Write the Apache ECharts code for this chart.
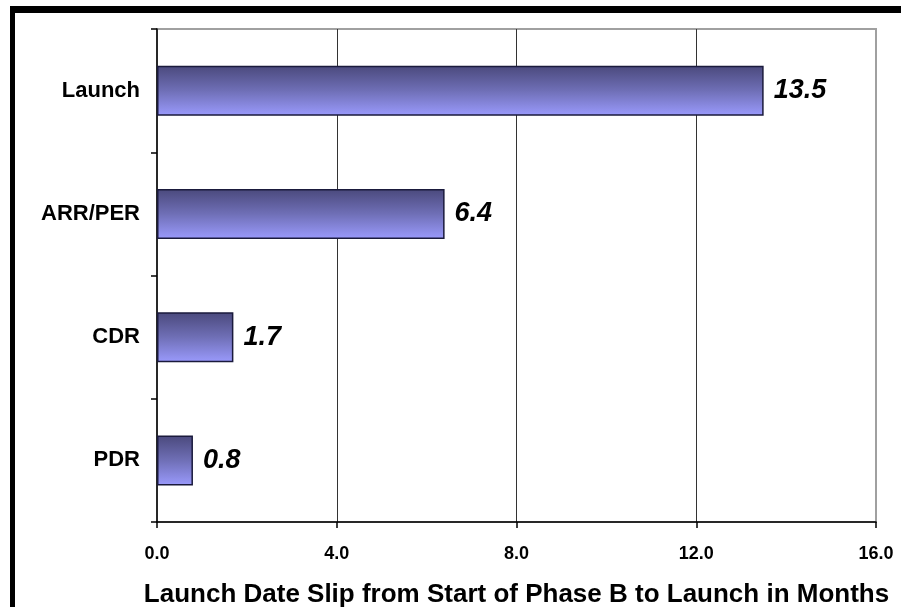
<!DOCTYPE html>
<html>
<head>
<meta charset="utf-8">
<script src="https://cdn.jsdelivr.net/npm/echarts@6/dist/echarts.min.js"></script>
<style>
  html, body { margin: 0; padding: 0; background: #fff; }
  #chart { width: 901px; height: 607px; }
</style>
</head>
<body>
<div id="chart"></div>
<script>
// Milestones, listed bottom to top
const milestones = ['PDR', 'CDR', 'ARR/PER', 'Launch'];
// Launch date slip (months) reached by each milestone
const slipMonths = [0.8, 1.7, 6.4, 13.5];
const axisTitle = 'Launch Date Slip from Start of Phase B to Launch in Months';

const FONT = '"Liberation Sans", Arial, Helvetica, sans-serif';

const chart = echarts.init(document.getElementById('chart'), null, { renderer: 'canvas' });

chart.setOption({
  backgroundColor: '#ffffff',
  animation: false,
  graphic: [
    // heavy frame along top and left edges
    { type: 'line', shape: { x1: 10, y1: 9.5, x2: 901, y2: 9.5 }, style: { stroke: '#000', lineWidth: 7 } },
    { type: 'line', shape: { x1: 12.5, y1: 6, x2: 12.5, y2: 607 }, style: { stroke: '#000', lineWidth: 5 } }
  ],
  grid: {
    left: 157, right: 25, top: 29, bottom: 85,
    containLabel: false,
    outerBoundsMode: 'none',
    show: true, borderColor: '#a0a0a0', borderWidth: 2, backgroundColor: 'transparent'
  },
  xAxis: {
    type: 'value',
    min: 0, max: 16, interval: 4,
    name: axisTitle,
    nameLocation: 'middle',
    nameGap: 60,
    nameTextStyle: { fontFamily: FONT, fontWeight: 'bold', fontSize: 26, color: '#000' },
    axisLine: { show: true, lineStyle: { color: '#000', width: 1.5 } },
    axisTick: { show: true, inside: false, length: 6, lineStyle: { color: '#000', width: 1.5 } },
    axisLabel: {
      margin: 23,
      fontFamily: FONT, fontWeight: 'bold', fontSize: 18, color: '#000',
      formatter: v => v.toFixed(1)
    },
    splitLine: { show: true, showMinLine: false, showMaxLine: false, lineStyle: { color: '#333', width: 1 } }
  },
  yAxis: {
    type: 'category',
    data: milestones,
    axisLine: { show: true, lineStyle: { color: '#000', width: 1.5 } },
    axisTick: { show: true, inside: false, length: 6, lineStyle: { color: '#000', width: 1.5 } },
    axisLabel: { margin: 17, fontFamily: FONT, fontWeight: 'bold', fontSize: 22, color: '#000' },
    splitLine: { show: false }
  },
  series: [{
    type: 'bar',
    data: slipMonths,
    barWidth: 50,
    itemStyle: {
      borderColor: '#1a1a3c',
      borderWidth: 1.5,
      color: new echarts.graphic.LinearGradient(0, 0, 0, 1, [
        { offset: 0, color: '#4a497c' },
        { offset: 0.5, color: '#6f6fb6' },
        { offset: 1, color: '#9a9afc' }
      ])
    },
    label: {
      show: true,
      position: 'right',
      distance: 10,
      fontFamily: FONT,
      fontWeight: 'bold',
      fontStyle: 'italic',
      fontSize: 27,
      color: '#000',
      formatter: p => p.value.toFixed(1)
    }
  }]
});
</script>
</body>
</html>
